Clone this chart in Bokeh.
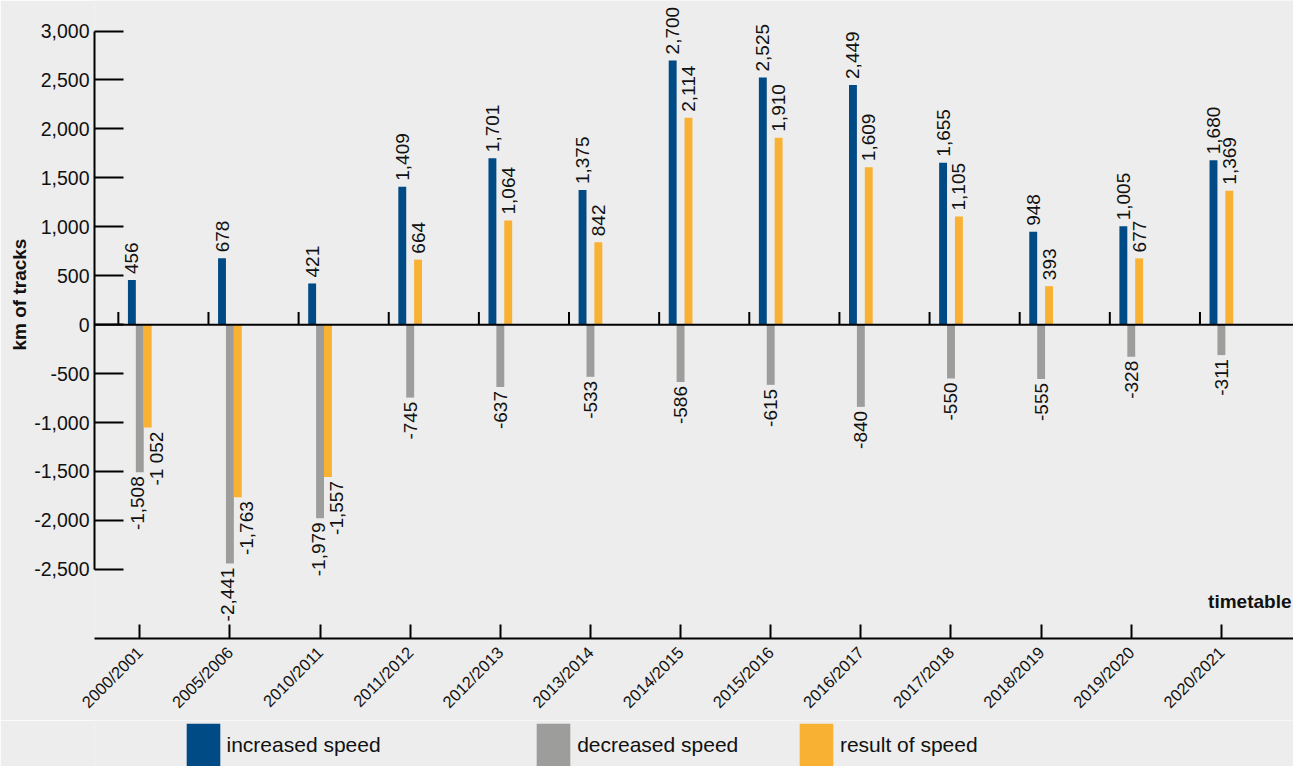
import math
from bokeh.plotting import figure
from bokeh.layouts import column
from bokeh.models import (ColumnDataSource, Range1d, FixedTicker, NumeralTickFormatter,
                          Span, Label, Legend, LegendItem, Title)
from bokeh.transform import dodge
from bokeh.core.properties import value
from bokeh.embed import file_html
from bokeh.resources import INLINE

# ---------------- data ----------------
timetables = ["2000/2001", "2005/2006", "2010/2011", "2011/2012", "2012/2013", "2013/2014",
              "2014/2015", "2015/2016", "2016/2017", "2017/2018", "2018/2019", "2019/2020",
              "2020/2021"]
increased = [456, 678, 421, 1409, 1701, 1375, 2700, 2525, 2449, 1655, 948, 1005, 1680]
decreased = [-1508, -2441, -1979, -745, -637, -533, -586, -615, -840, -550, -555, -328, -311]
result = [-1052, -1763, -1557, 664, 1064, 842, 2114, 1910, 1609, 1105, 393, 677, 1369]
result_labels = ["-1 052"] + ["{:,}".format(v) for v in result[1:]]
y_ticks = list(range(-2500, 3001, 500))
series_names = ["increased speed", "decreased speed", "result of speed"]

# ---------------- style ----------------
BLUE = "#004A85"
GRAY = "#9D9D9C"
ORANGE = "#F8B133"
BG = "#EDEDED"
FONT = "Liberation Sans"
TXT = "#111111"

W, H_ALL = 1293, 766
SX, SY = W / 1309.0, H_ALL / 782.0       # scale of the reference layout
H_MAIN = 720
H_LEG = H_ALL - H_MAIN
LEFT = 94
FRAME_BOTTOM = 642
BOTTOM = H_MAIN - FRAME_BOTTOM
PX_X = 91.25 * SX                        # px per category
PX_Y = 553.0 * SY / 5500.0               # px per km
ZERO_PX = 333.0 * SY
CAT0 = 141.0 * SX
frame_w = W - LEFT
x0 = (LEFT - CAT0) / PX_X
y_top = ZERO_PX / PX_Y
BW = 8.0 * SX / PX_X                     # bar width in data units

p = figure(width=W, height=H_MAIN, output_backend="svg", toolbar_location=None,
           x_range=Range1d(x0, x0 + frame_w / PX_X),
           y_range=Range1d(y_top - FRAME_BOTTOM / PX_Y, y_top),
           min_border_left=LEFT, min_border_right=0, min_border_top=0,
           min_border_bottom=BOTTOM)
p.background_fill_color = BG
p.border_fill_color = BG
p.outline_line_color = None
p.grid.visible = False

pos = list(range(len(timetables)))
src = ColumnDataSource(dict(x=pos, inc=increased, dec=decreased, res=result))

r_inc = p.vbar(x=dodge("x", -BW, range=p.x_range), top="inc", bottom=0, width=BW,
               source=src, fill_color=BLUE, line_color=None)
r_dec = p.vbar(x=dodge("x", 0, range=p.x_range), top="dec", bottom=0, width=BW,
               source=src, fill_color=GRAY, line_color=None)
r_res = p.vbar(x=dodge("x", BW, range=p.x_range), top="res", bottom=0, width=BW,
               source=src, fill_color=ORANGE, line_color=None)

# zero line + small marks on it
p.add_layout(Span(location=0, dimension="width", line_color="black", line_width=2))
mark_off = -21.7 * SX / PX_X
tick_src = ColumnDataSource(dict(x=pos, y0=[0] * len(pos), y1=[13.0 * SY / PX_Y] * len(pos)))
p.segment(x0=dodge("x", mark_off, range=p.x_range), x1=dodge("x", mark_off, range=p.x_range),
          y0="y0", y1="y1", source=tick_src, line_color="black", line_width=2)

# value labels
lx, ly, lt, la, lxo, lyo = [], [], [], [], [], []
for i in pos:
    both_neg = decreased[i] < 0 and result[i] < 0
    for off, v, t, xo in ((-BW, increased[i], "{:,}".format(increased[i]), 0),
                          (0, decreased[i], "{:,}".format(decreased[i]), -2 if both_neg else 0),
                          (BW, result[i], result_labels[i], 9 if both_neg else 0)):
        lx.append(i + off)
        ly.append(v)
        lt.append(t)
        if v >= 0:
            la.append("left"); lyo.append(-6)
        else:
            la.append("right"); lyo.append(4)
        lxo.append(xo)
lab_src = ColumnDataSource(dict(x=lx, y=ly, text=lt, align=la, xo=lxo, yo=lyo))
p.text(x="x", y="y", text="text", source=lab_src, angle=math.pi / 2,
       text_align="align", text_baseline="middle", x_offset="xo", y_offset="yo",
       text_font=value(FONT), text_font_size="19px", text_color=TXT)

# y axis
ya = p.yaxis[0]
ya.bounds = (y_ticks[0], y_ticks[-1])
ya.ticker = FixedTicker(ticks=y_ticks)
ya.formatter = NumeralTickFormatter(format="0,0")
ya.major_tick_in = 29
ya.major_tick_out = 0
ya.minor_tick_line_color = None
ya.axis_line_width = 2
ya.major_tick_line_width = 2
ya.axis_line_color = "black"
ya.major_tick_line_color = "black"
ya.major_label_standoff = 5
ya.major_label_text_font = FONT
ya.major_label_text_font_size = "19.5px"
ya.major_label_text_color = TXT

# x axis
xa = p.xaxis[0]
xa.ticker = FixedTicker(ticks=pos)
xa.major_label_overrides = {i: t for i, t in enumerate(timetables)}
xa.major_label_orientation = math.pi / 4
xa.major_tick_in = 14
xa.major_tick_out = 0
xa.minor_tick_line_color = None
xa.axis_line_width = 2
xa.major_tick_line_width = 2
xa.axis_line_color = "black"
xa.major_tick_line_color = "black"
xa.major_label_standoff = 11
xa.major_label_text_font = FONT
xa.major_label_text_font_size = "16.5px"
xa.major_label_text_color = TXT

# axis titles
p.add_layout(Title(text="km of tracks", align="left", offset=288, standoff=4,
                   text_font=FONT, text_font_size="19px", text_font_style="bold",
                   text_color=TXT), "left")
p.add_layout(Label(x=x0 + frame_w / PX_X, y=(ZERO_PX - 617 * SY) / PX_Y, x_offset=-2,
                   text="timetable", text_align="right", text_baseline="alphabetic",
                   text_font=FONT, text_font_size="19px", text_font_style="bold",
                   text_color=TXT))

# legend strip (separate figure so the legend is not clipped by the chart frame)
lf = figure(width=W, height=H_LEG, output_backend="svg", toolbar_location=None,
            x_range=Range1d(0, W), y_range=Range1d(0, H_LEG),
            x_axis_location=None, y_axis_location=None,
            min_border_left=0, min_border_right=0, min_border_top=0, min_border_bottom=0)
lf.background_fill_color = BG
lf.border_fill_color = BG
lf.outline_line_color = None
lf.grid.visible = False

colors = [BLUE, GRAY, ORANGE]
box_left_ref = [188, 543, 809]
box_w = 34 * SX
box_h = (782 - 739) * SY
box_top_local = 739 * SY - H_MAIN
gw, gh = box_w / 0.8, box_h / 0.8
for name, col, bl in zip(series_names, colors, box_left_ref):
    r = lf.quad(left=[-50], right=[-40], bottom=[0], top=[10], fill_color=col, line_color=None)
    area_left = bl * SX - 0.1 * gw - LEFT      # the strip's frame is aligned with the chart frame
    area_top = box_top_local - 0.1 * gh
    area_bottom_from_bottom = H_LEG - (area_top + gh)
    lg = Legend(items=[LegendItem(label=name, renderers=[r])],
                location=(area_left, area_bottom_from_bottom),
                orientation="horizontal", glyph_width=round(gw), glyph_height=round(gh),
                label_standoff=3, padding=0, margin=0, spacing=0,
                border_line_color=None, background_fill_alpha=0,
                label_text_font=FONT, label_text_font_size="21px", label_text_color=TXT)
    lf.add_layout(lg, "center")

layout = column(p, lf, spacing=0)
open("out.html", "w").write(file_html(layout, INLINE))
